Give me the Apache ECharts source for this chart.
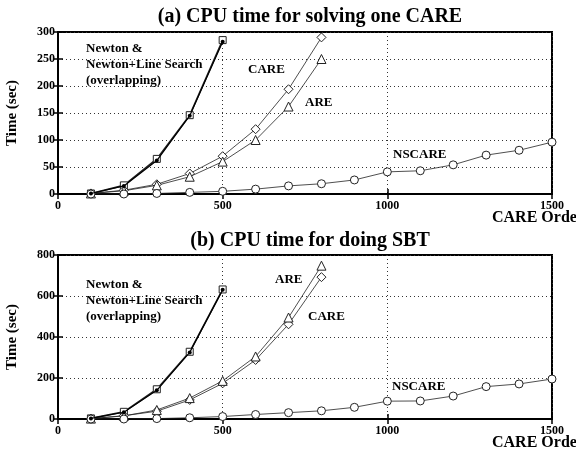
<!DOCTYPE html>
<html>
<head>
<meta charset="utf-8">
<script src="https://cdn.jsdelivr.net/npm/echarts@6/dist/echarts.min.js"></script>
<style>
  html, body { margin: 0; padding: 0; background: #fff; }
  #chart { width: 576px; height: 455px; }
</style>
</head>
<body>
<div id="chart"></div>
<script>
// CARE order (x values)
const ordersShort = [100, 200, 300, 400, 500];
const ordersMid = [100, 200, 300, 400, 500, 600, 700, 800];
const ordersLong = [100, 200, 300, 400, 500, 600, 700, 800, 900, 1000, 1100, 1200, 1300, 1400, 1500];

// (a) CPU time for solving one CARE
const aNewton = [1, 16, 65, 146, 285];
const aNewtonLS = [1, 15, 62, 145, 282];
const aCARE = [1, 7, 18, 38, 70, 120, 194, 290];
const aARE = [1, 6, 16, 32, 60, 100, 162, 250];
const aNSCARE = [0, 0, 1, 3, 5, 9, 15, 19, 26, 41, 43, 54, 72, 81, 96];

// (b) CPU time for doing SBT
const bNewton = [3, 35, 145, 328, 632];
const bNewtonLS = [3, 33, 140, 325, 630];
const bCARE = [2, 16, 38, 93, 174, 288, 462, 692];
const bARE = [2, 15, 44, 102, 186, 305, 495, 748];
const bNSCARE = [0, 0, 2, 6, 12, 22, 31, 40, 57, 87, 88, 112, 158, 171, 195];

const xTicks = [0, 500, 1000, 1500];
const aYMax = 300, aYStep = 50;
const bYMax = 800, bYStep = 200;

const serif = '"Liberation Serif", "DejaVu Serif", serif';

function pairs(xs, ys) {
  return ys.map((v, i) => [xs[i], v]);
}

const grids = [
  { left: 58, top: 32, width: 494, height: 162, outerBoundsMode: 'none', containLabel: false,
    show: true, borderColor: '#000', borderWidth: 2, backgroundColor: 'transparent' },
  { left: 58, top: 255, width: 494, height: 164, outerBoundsMode: 'none', containLabel: false,
    show: true, borderColor: '#000', borderWidth: 2, backgroundColor: 'transparent' }
];

const tickLabel = { color: '#000', fontFamily: serif, fontWeight: 'bold', fontSize: 12, formatter: v => String(v) };

function xAxes(gi) {
  const base = {
    type: 'value', gridIndex: gi, min: xTicks[0], max: xTicks[xTicks.length - 1], interval: 500
  };
  return [
    Object.assign({}, base, {
      position: 'bottom',
      axisLine: { show: true, lineStyle: { color: '#000', width: 2 } },
      axisTick: { show: true, inside: true, length: 5, lineStyle: { color: '#000', width: 1.5 } },
      axisLabel: Object.assign({ margin: 6 }, tickLabel),
      splitLine: { show: true, lineStyle: { color: '#333', type: [1, 3], width: 1 } }
    }),
    Object.assign({}, base, {
      position: 'top',
      axisLine: { show: true, lineStyle: { color: '#000', width: 2 } },
      axisTick: { show: true, inside: true, length: 5, lineStyle: { color: '#000', width: 1.5 } },
      axisLabel: { show: false },
      splitLine: { show: false }
    })
  ];
}

function yAxes(gi, max, step) {
  const base = { type: 'value', gridIndex: gi, min: 0, max: max, interval: step };
  return [
    Object.assign({}, base, {
      position: 'left',
      name: 'Time (sec)',
      nameLocation: 'middle',
      nameGap: 38,
      nameTextStyle: { color: '#000', fontFamily: serif, fontWeight: 'bold', fontSize: 15 },
      axisLine: { show: true, lineStyle: { color: '#000', width: 2 } },
      axisTick: { show: true, inside: true, length: 5, lineStyle: { color: '#000', width: 1.5 } },
      axisLabel: Object.assign({ margin: 3 }, tickLabel),
      splitLine: { show: true, lineStyle: { color: '#333', type: [1, 3], width: 1 } }
    }),
    Object.assign({}, base, {
      position: 'right',
      axisLine: { show: true, lineStyle: { color: '#000', width: 2 } },
      axisTick: { show: true, inside: true, length: 5, lineStyle: { color: '#000', width: 1.5 } },
      axisLabel: { show: false },
      splitLine: { show: false }
    })
  ];
}

function line(name, gi, xs, ys, symbol, size, width) {
  return {
    name: name, type: 'line', xAxisIndex: gi * 2, yAxisIndex: gi * 2,
    data: pairs(xs, ys),
    symbol: symbol, symbolSize: size, showSymbol: true,
    lineStyle: { color: '#222', width: width },
    itemStyle: { color: '#fff', borderColor: '#222', borderWidth: 1 },
    animation: false, z: 3
  };
}

function newtonLS(gi, ys) {
  return {
    name: 'Newton+Line Search', type: 'line', xAxisIndex: gi * 2, yAxisIndex: gi * 2,
    data: pairs(ordersShort, ys),
    symbol: 'circle', symbolSize: 4,
    lineStyle: { color: '#000', width: 1.2 },
    itemStyle: { color: '#000' },
    animation: false, z: 4
  };
}

const series = [
  line('Newton', 0, ordersShort, aNewton, 'rect', 7, 1.6),
  newtonLS(0, aNewtonLS),
  line('CARE', 0, ordersMid, aCARE, 'diamond', 9, 0.8),
  line('ARE', 0, ordersMid, aARE, 'triangle', 9, 0.8),
  line('NSCARE', 0, ordersLong, aNSCARE, 'circle', 8, 0.8),
  line('Newton', 1, ordersShort, bNewton, 'rect', 7, 1.6),
  newtonLS(1, bNewtonLS),
  line('CARE', 1, ordersMid, bCARE, 'diamond', 9, 0.8),
  line('ARE', 1, ordersMid, bARE, 'triangle', 9, 0.8),
  line('NSCARE', 1, ordersLong, bNSCARE, 'circle', 8, 0.8)
];

function label(text, x, y, size) {
  return {
    type: 'text', left: x, top: y,
    style: { text: text, fill: '#000', font: 'bold ' + (size || 13) + 'px ' + serif, lineHeight: 16 },
    z: 10
  };
}

const newtonText = 'Newton &\nNewton+Line Search\n(overlapping)';

const graphics = [
  label(newtonText, 86, 41),
  label('CARE', 248, 62),
  label('ARE', 305, 95),
  label('NSCARE', 393, 147),
  label('CARE Order', 492, 210, 16),
  label(newtonText, 86, 277),
  label('ARE', 275, 272),
  label('CARE', 308, 309),
  label('NSCARE', 392, 379),
  label('CARE Order', 492, 435, 16)
];

const chart = echarts.init(document.getElementById('chart'), null, { renderer: 'canvas' });
chart.setOption({
  backgroundColor: '#fff',
  animation: false,
  title: [
    { text: '(a) CPU time for solving one CARE', left: 305, top: 2, textAlign: 'center',
      textStyle: { fontFamily: serif, fontWeight: 'bold', fontSize: 20, color: '#000' } },
    { text: '(b) CPU time for doing SBT', left: 305, top: 226, textAlign: 'center',
      textStyle: { fontFamily: serif, fontWeight: 'bold', fontSize: 20, color: '#000' } }
  ],
  grid: grids,
  xAxis: xAxes(0).concat(xAxes(1)),
  yAxis: yAxes(0, aYMax, aYStep).concat(yAxes(1, bYMax, bYStep)),
  series: series,
  graphic: graphics
});
</script>
</body>
</html>
